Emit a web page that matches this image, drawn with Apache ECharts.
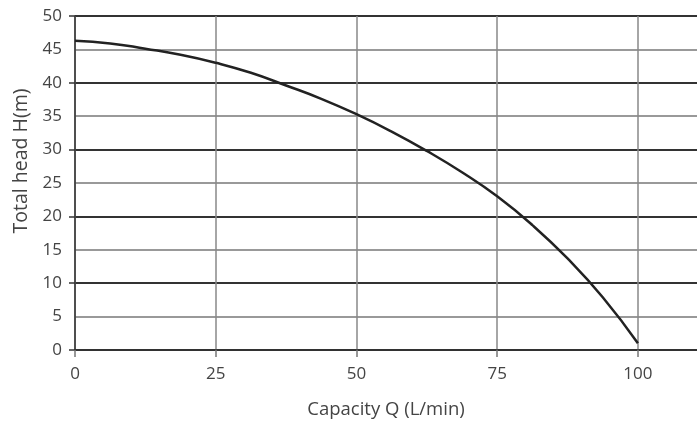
<!DOCTYPE html>
<html><head><meta charset="utf-8">
<script src="https://cdn.jsdelivr.net/npm/echarts@6/dist/echarts.min.js"></script>
<style>html,body{margin:0;padding:0;background:#fff}#c{width:697px;height:425px}</style>
</head><body><div id="c"></div>
<script>
const flowQ = [0, 6.25, 12.5, 18.75, 25, 31.25, 37.5, 43.75, 50, 56.25, 62.5, 68.75, 75, 81.25, 87.5, 93.75, 100];
const headH = [46.3, 45.9, 45.1, 44.2, 43.0, 41.5, 39.6, 37.6, 35.3, 32.7, 29.8, 26.6, 23.0, 18.7, 13.7, 7.9, 1.0];
const xTicks = [0, 25, 50, 75, 100];
const yTicks = [0, 5, 10, 15, 20, 25, 30, 35, 40, 45, 50];
const xName = 'Capacity Q (L/min)';
const yName = 'Total head H(m)';

const font = 'Open Sans';
const chart = echarts.init(document.getElementById('c'));
chart.setOption({
  animation: false,
  grid: {left: 75, right: 0, top: 16, bottom: 75, containLabel: false},
  xAxis: {
    type: 'value', min: xTicks[0], max: 110.5, interval: 25,
    name: xName, nameLocation: 'middle', nameGap: 50,
    nameTextStyle: {fontFamily: font, fontSize: 18.5, color: '#444'},
    axisLine: {show: true, lineStyle: {color: '#333', width: 1.5}},
    axisTick: {show: true, length: 7, lineStyle: {color: '#777', width: 1.5}},
    axisLabel: {fontFamily: font, fontSize: 17, color: '#444', margin: 16, showMaxLabel: false},
    splitLine: {show: true, showMaxLine: false, lineStyle: {color: '#888', width: 1.5}}
  },
  yAxis: [{
    type: 'value', min: yTicks[0], max: yTicks[yTicks.length - 1], interval: 5,
    name: yName, nameLocation: 'middle', nameGap: 44,
    nameTextStyle: {fontFamily: font, fontSize: 19.5, color: '#444', padding: [0, 0, 0, 44]},
    axisLine: {show: true, lineStyle: {color: '#333', width: 1.5}},
    axisTick: {show: false},
    axisLabel: {fontFamily: font, fontSize: 17, color: '#444', margin: 13},
    splitLine: {show: true, lineStyle: {color: '#777', width: 1.5}}
  }, {
    type: 'value', position: 'left', min: 0, max: 50, interval: 10,
    axisLine: {show: false},
    axisTick: {show: true, length: 6, lineStyle: {color: '#333', width: 1.5}},
    axisLabel: {show: false},
    splitLine: {show: true, lineStyle: {color: '#333', width: 2}}
  }],
  series: [{
    type: 'line', yAxisIndex: 0, smooth: 0.5, symbol: 'none',
    data: flowQ.map((q, i) => [q, headH[i]]),
    lineStyle: {color: '#222', width: 2.5}, z: 5
  }]
});
</script></body></html>
